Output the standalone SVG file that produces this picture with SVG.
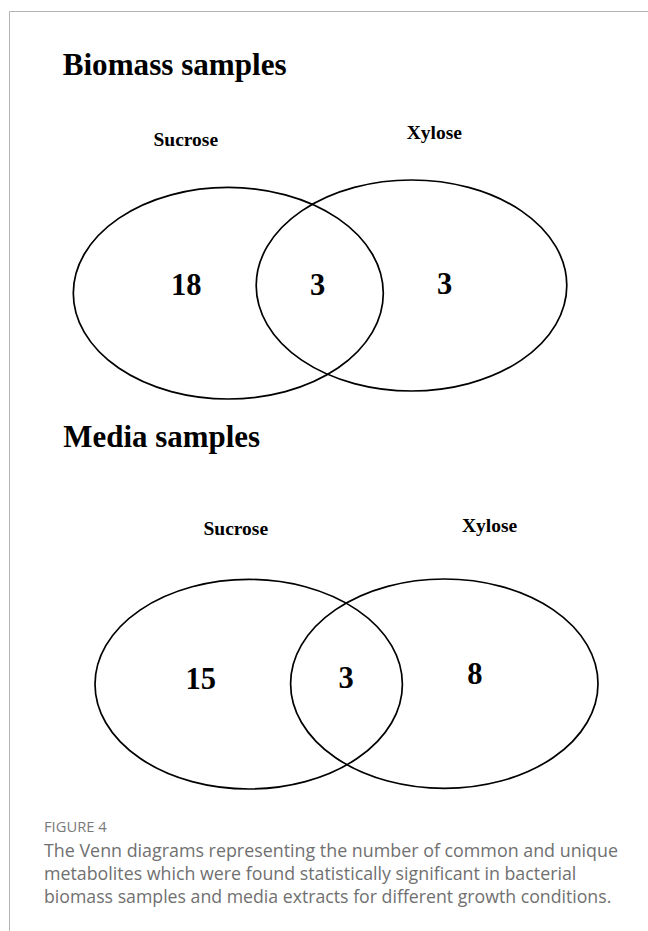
<svg xmlns="http://www.w3.org/2000/svg" width="648" height="931" viewBox="0 0 648 931">
<style>
.title{font-family:"Liberation Serif","Times New Roman",serif;font-weight:bold;font-size:31px;fill:#000}
.lab{font-family:"Liberation Serif","Times New Roman",serif;font-weight:bold;font-size:19.5px;fill:#000;text-anchor:middle}
.num{font-family:"Liberation Serif","Times New Roman",serif;font-weight:bold;font-size:30.5px;fill:#000;text-anchor:middle}
.set{fill:none;stroke:#000;stroke-width:1.7}
.cap{font-family:"Open Sans","Liberation Sans",sans-serif;font-size:18.5px;fill:#707070}
.fig{font-family:"Open Sans","Liberation Sans",sans-serif;font-size:14.5px;fill:#7a7a7a}
</style>
<rect width="648" height="931" fill="#fff"/>
<path d="M9.5,931 V11.5 H648" fill="none" stroke="#b4b4b4" stroke-width="1"/>

<g id="biomass">
  <text class="title" x="62.7" y="75" textLength="224" lengthAdjust="spacingAndGlyphs">Biomass samples</text>
  <g id="biomass-sucrose">
    <ellipse class="set" cx="228.3" cy="293.2" rx="155" ry="105.8"/>
    <text class="lab" x="185.8" y="145.7">Sucrose</text>
    <text class="num" x="186.2" y="295">18</text>
  </g>
  <g id="biomass-xylose">
    <ellipse class="set" cx="411.5" cy="285.5" rx="155.3" ry="105.5"/>
    <text class="lab" x="434.3" y="139">Xylose</text>
    <text class="num" x="444.5" y="294.3">3</text>
  </g>
  <g id="biomass-common">
    <text class="num" x="317.5" y="295">3</text>
  </g>
</g>

<g id="media">
  <text class="title" x="63.3" y="446.7" textLength="196.7" lengthAdjust="spacingAndGlyphs">Media samples</text>
  <g id="media-sucrose">
    <ellipse class="set" cx="248.7" cy="684.2" rx="153.7" ry="104.8"/>
    <text class="lab" x="235.8" y="535">Sucrose</text>
    <text class="num" x="200.8" y="689.3">15</text>
  </g>
  <g id="media-xylose">
    <ellipse class="set" cx="444.3" cy="683.7" rx="153.7" ry="104.7"/>
    <text class="lab" x="489.5" y="531.7">Xylose</text>
    <text class="num" x="474.8" y="684">8</text>
  </g>
  <g id="media-common">
    <text class="num" x="346.2" y="688.3">3</text>
  </g>
</g>

<g id="connectors"></g>

<g id="caption">
  <text class="fig" x="44" y="832.3" textLength="62.7" lengthAdjust="spacingAndGlyphs">FIGURE 4</text>
  <text class="cap" x="44" y="856.7" textLength="574" lengthAdjust="spacingAndGlyphs">The Venn diagrams representing the number of common and unique</text>
  <text class="cap" x="44" y="879.5" textLength="532.3" lengthAdjust="spacingAndGlyphs">metabolites which were found statistically significant in bacterial</text>
  <text class="cap" x="44" y="903.3" textLength="567.3" lengthAdjust="spacingAndGlyphs">biomass samples and media extracts for different growth conditions.</text>
</g>
</svg>
